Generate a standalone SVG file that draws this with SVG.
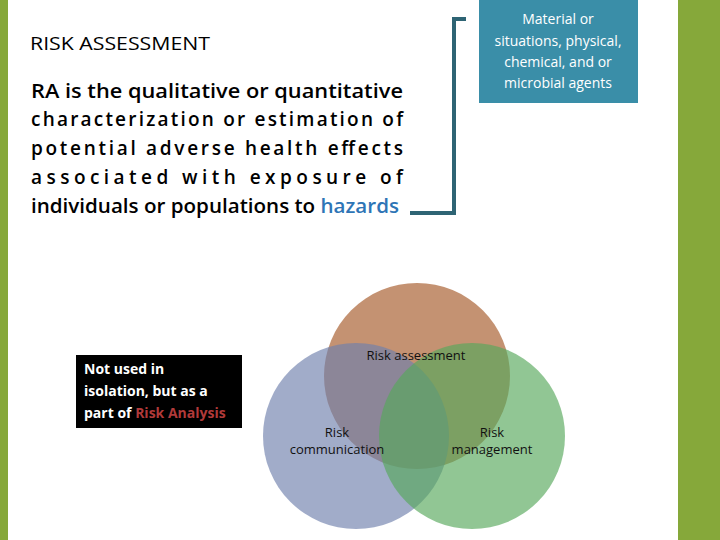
<svg xmlns="http://www.w3.org/2000/svg" width="720" height="540" viewBox="0 0 720 540">
<style>
.t{font-family:"Open Sans","DejaVu Sans",sans-serif;fill:#000}
.b{font-family:"Open Sans","DejaVu Sans",sans-serif;font-weight:bold;font-size:14px;fill:#fff}
.v{font-family:"Open Sans","DejaVu Sans",sans-serif;font-size:13px;fill:#111;text-anchor:middle}
</style>
<rect width="720" height="540" fill="#fff"/>
<rect x="0" y="0" width="8" height="540" fill="#86a83a"/>
<rect x="678" y="0" width="42" height="540" fill="#86a83a"/>
<text class="t" x="30" y="50" font-size="18" textLength="180" lengthAdjust="spacingAndGlyphs">RISK ASSESSMENT</text>
<g class="t" font-size="19" font-weight="600">
<text x="31" y="98" textLength="372" lengthAdjust="spacingAndGlyphs">RA is the qualitative or quantitative</text>
<text x="31" y="126" textLength="372" lengthAdjust="spacing">characterization or estimation of</text>
<text x="31" y="155" textLength="372" lengthAdjust="spacing">potential adverse health effects</text>
<text x="31" y="184" textLength="372" lengthAdjust="spacing">associated with exposure of</text>
<text x="31" y="213" textLength="368" lengthAdjust="spacingAndGlyphs">individuals or populations to <tspan fill="#2e75b6">hazards</tspan></text>
</g>
<g id="bracket">
<polyline points="466,19 454,19 454,213 410,213" fill="none" stroke="#2e6474" stroke-width="4"/>
</g>
<g id="hazards">
<rect x="479" y="0" width="159" height="103" fill="#3a8ea8"/>
<g class="v" style="fill:#fff;font-size:14px">
<text x="558" y="24">Material or</text>
<text x="558" y="46">situations, physical,</text>
<text x="558" y="67">chemical, and or</text>
<text x="558" y="88">microbial agents</text>
</g>
</g>
<g id="note">
<rect x="76" y="355" width="166" height="73" fill="#000"/>
<text class="b" x="84" y="374">Not  used in</text>
<text class="b" x="84" y="396">isolation, but as a</text>
<text class="b" x="84" y="418">part of <tspan fill="#b03a3a">Risk Analysis</tspan></text>
</g>
<g id="venn">
<circle cx="417" cy="376" r="93" fill="#c49272"/>
<circle cx="356" cy="436" r="93" fill="#6f7fac" fill-opacity="0.65"/>
<circle cx="472" cy="436" r="93" fill="#56a85a" fill-opacity="0.65"/>
<text class="v" x="416" y="360">Risk assessment</text>
<text class="v" x="337" y="437">Risk</text>
<text class="v" x="337" y="454">communication</text>
<text class="v" x="492" y="437">Risk</text>
<text class="v" x="492" y="454">management</text>
</g>
</svg>
